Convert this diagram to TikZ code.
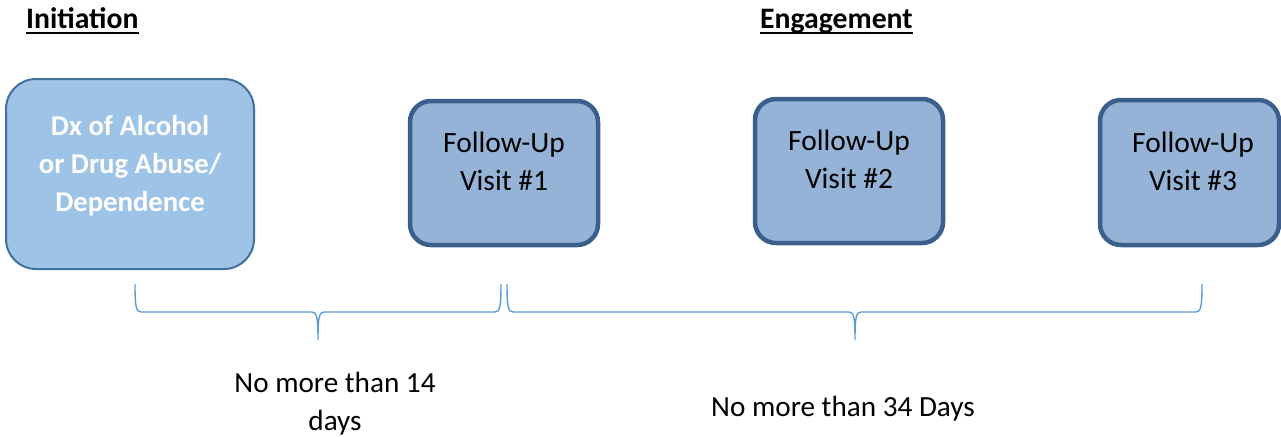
\documentclass[tikz,border=0pt]{standalone}
\usepackage{fontspec}
\setmainfont{Carlito}
\definecolor{dxfill}{HTML}{9DC3E6}
\definecolor{dxline}{HTML}{41719C}
\definecolor{fufill}{HTML}{95B3D7}
\definecolor{fuline}{HTML}{3A5F8C}
\definecolor{brace}{HTML}{5B9BD5}
\begin{document}
\begin{tikzpicture}[x=1pt,y=-1pt,
  dxbox/.style={draw=dxline, line width=2pt, fill=dxfill, rounded corners=30pt, inner sep=0pt},
  fubox/.style={draw=fuline, line width=4.5pt, fill=fufill, rounded corners=21pt, inner sep=0pt},
  dxtext/.style={align=center, text=white, font=\fontsize{28.7}{38}\selectfont\bfseries, inner sep=0pt},
  futext/.style={align=center, font=\fontsize{29.5}{38.5}\selectfont, inner sep=0pt},
  title/.style={anchor=base west, inner sep=0pt, font=\fontsize{29.7}{34}\selectfont\bfseries},
  note/.style={align=center, inner sep=0pt, font=\fontsize{29.2}{37.5}\selectfont},
  bracepath/.style={draw=brace, line width=1.4pt}]
\useasboundingbox (0,0) rectangle (1281,436);

% titles
\node[title] (tinit) at (26,29) {Initiation};
\node[title] (teng) at (760,29) {Engagement};
\draw[line width=2.2pt] ([yshift=-4pt]tinit.base west) -- ([yshift=-4pt]tinit.base east);
\draw[line width=2.2pt] ([yshift=-4pt]teng.base west) -- ([yshift=-4pt]teng.base east);

% boxes
\node[dxbox, minimum width=248pt, minimum height=190pt] (dx) at (130,174) {};
\node[dxtext] (dxt) at (130,166) {Dx of Alcohol\\or Drug Abuse/\\Dependence};

\node[fubox, minimum width=188pt, minimum height=144pt] (fu1) at (504,173) {};
\node[futext] (fu1t) at (504,161.5) {Follow-Up\\Visit \#1};

\node[fubox, minimum width=188pt, minimum height=144pt] (fu2) at (849,171) {};
\node[futext] (fu2t) at (849,159.5) {Follow-Up\\Visit \#2};

\node[fubox, minimum width=179pt, minimum height=145pt] (fu3) at (1189.5,172.5) {};
\node[futext] (fu3t) at (1193,161.5) {Follow-Up\\Visit \#3};

% braces
\draw[bracepath] (135,284) .. controls (135,306) and (136,312) .. (141,312)
  -- (312,312) .. controls (317,312) and (318,318) .. (318,340)
  .. controls (318,318) and (319,312) .. (324,312)
  -- (495,312) .. controls (500,312) and (501,306) .. (501,284);
\draw[bracepath] (507,284) .. controls (507,306) and (508,312) .. (513,312)
  -- (849,312) .. controls (854,312) and (855,318) .. (855,340)
  .. controls (855,318) and (856,312) .. (861,312)
  -- (1196,312) .. controls (1201,312) and (1202,306) .. (1202,284);

% notes
\node[note] (n1) at (335,403.5) {No more than 14\\days};
\node[note] (n2) at (843,409) {No more than 34 Days};
\end{tikzpicture}
\end{document}
